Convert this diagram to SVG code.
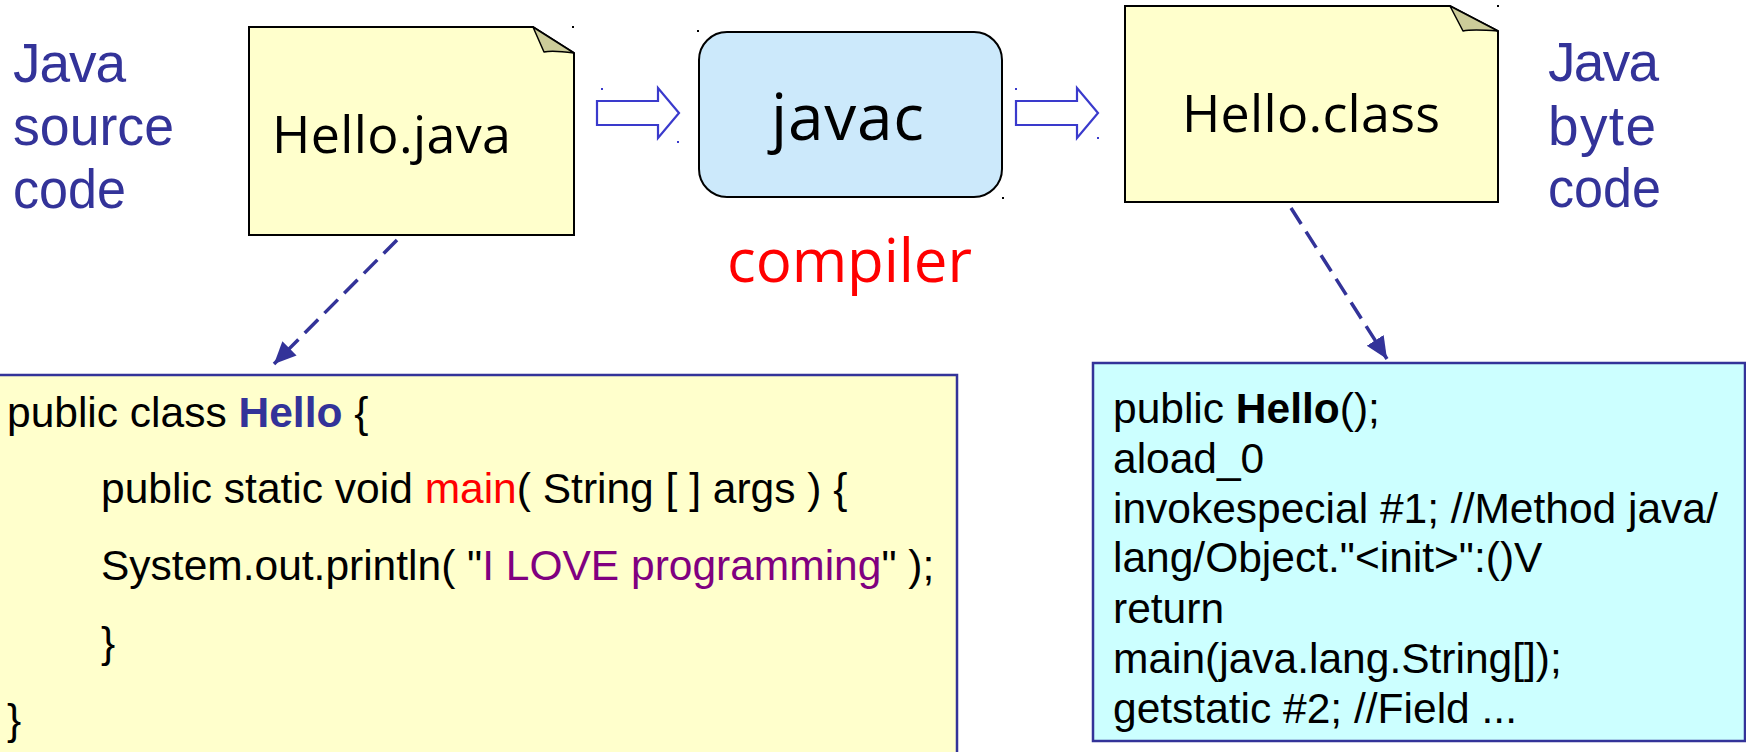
<svg xmlns="http://www.w3.org/2000/svg" width="1746" height="752" viewBox="0 0 1746 752">
<style>
.comic{font-family:"Open Sans","DejaVu Sans",sans-serif;}
.lbl{font-family:"Liberation Sans",Arial,sans-serif;fill:#333399;font-size:55px;}
.code{font-family:"Liberation Sans",Arial,sans-serif;font-size:42.5px;fill:#000;}
.note{fill:#ffffcc;stroke:#000;stroke-width:2;}
.fold{fill:#cccc99;stroke:#000;stroke-width:1.5;stroke-linejoin:round;}
.blk{fill:#fff;stroke:#3a3acc;stroke-width:2.2;}
.dash{fill:none;stroke:#333399;stroke-width:3.5;stroke-dasharray:19 9;}
.dot{fill:#000;}
.bdot{fill:#3a3acc;}
</style>
<defs>
<marker id="ah" markerUnits="userSpaceOnUse" markerWidth="24" markerHeight="22" refX="22" refY="10" orient="auto" viewBox="0 0 24 22">
<path d="M0,0 L22,10 L0,20 Z" fill="#333399"/>
</marker>
</defs>
<rect width="1746" height="752" fill="#fff"/>

<g id="label-source">
<text class="lbl" x="13" y="82" textLength="113" lengthAdjust="spacing">Java</text>
<text class="lbl" x="13" y="145" textLength="161" lengthAdjust="spacingAndGlyphs">source</text>
<text class="lbl" x="13" y="208" textLength="113" lengthAdjust="spacingAndGlyphs">code</text>
</g>

<g id="hello-java">
<path class="note" d="M249,27 L533,27 L574,53 L574,235 L249,235 Z"/>
<path class="fold" d="M533,27 L544,52 Q552,50 574,53 Z"/>
<rect class="dot" x="572" y="26" width="2" height="2"/>
<text class="comic" x="272" y="153" font-size="52" textLength="239" lengthAdjust="spacing">Hello.java</text>
</g>

<g id="javac">
<rect x="699" y="32" width="303" height="165" rx="28" ry="28" fill="#cce9fb" stroke="#000" stroke-width="2"/>
<rect class="dot" x="697" y="30" width="2" height="2"/>
<rect class="dot" x="1002" y="197" width="2" height="2"/>
<text class="comic" x="771" y="140" font-size="64" textLength="153" lengthAdjust="spacing">javac</text>
</g>

<g id="compiler-label">
<text class="comic" x="727" y="282" font-size="60" fill="#ff0000" textLength="245" lengthAdjust="spacing">compiler</text>
</g>

<g id="hello-class">
<path class="note" d="M1125,6 L1450,6 L1498,31 L1498,202 L1125,202 Z"/>
<path class="fold" d="M1450,6 L1463,31 Q1472,29 1498,31 Z"/>
<rect class="dot" x="1497" y="5" width="2" height="2"/>
<text class="comic" x="1182" y="132" font-size="52" textLength="258" lengthAdjust="spacing">Hello.class</text>
</g>

<g id="label-byte">
<text class="lbl" x="1548" y="81" textLength="111" lengthAdjust="spacing">Java</text>
<text class="lbl" x="1548" y="145" textLength="108" lengthAdjust="spacing">byte</text>
<text class="lbl" x="1548" y="207" textLength="113" lengthAdjust="spacingAndGlyphs">code</text>
</g>

<g id="source-code">
<rect x="-2" y="375" width="959" height="400" fill="#ffffcc" stroke="#333399" stroke-width="2.5"/>
<text class="code" x="7" y="427">public class <tspan font-weight="bold" fill="#333399">Hello</tspan> {</text>
<text class="code" x="101" y="503">public static void <tspan fill="#ff0000">main</tspan>( String [ ] args ) {</text>
<text class="code" x="101" y="580">System.out.println( "<tspan fill="#800080">I LOVE programming</tspan>" );</text>
<text class="code" x="101" y="657">}</text>
<text class="code" x="7" y="734">}</text>
</g>

<g id="byte-code">
<rect x="1093" y="363" width="652" height="378" fill="#ccffff" stroke="#333399" stroke-width="2.5"/>
<text class="code" x="1113" y="423">public <tspan font-weight="bold">Hello</tspan>();</text>
<text class="code" x="1113" y="473">aload_0</text>
<text class="code" x="1113" y="523">invokespecial #1; //Method java/</text>
<text class="code" x="1113" y="572">lang/Object."&lt;init&gt;":()V</text>
<text class="code" x="1113" y="623">return</text>
<text class="code" x="1113" y="673">main(java.lang.String[]);</text>
<text class="code" x="1113" y="723">getstatic #2; //Field ...</text>
</g>

<g id="connectors">
<polygon class="blk" points="597,101 658,101 658,88 679,113 658,138 658,125 597,125"/>
<rect class="bdot" x="601" y="88" width="2" height="2"/>
<rect class="bdot" x="677" y="141" width="2" height="2"/>
<polygon class="blk" points="1016,101 1077,101 1077,88 1098,113 1077,138 1077,125 1016,125"/>
<rect class="bdot" x="1015" y="88" width="2" height="2"/>
<rect class="bdot" x="1097" y="137" width="2" height="2"/>
<line class="dash" x1="397" y1="240" x2="274" y2="364" marker-end="url(#ah)"/>
<line class="dash" x1="1291" y1="208" x2="1387" y2="359" marker-end="url(#ah)"/>
</g>
</svg>
